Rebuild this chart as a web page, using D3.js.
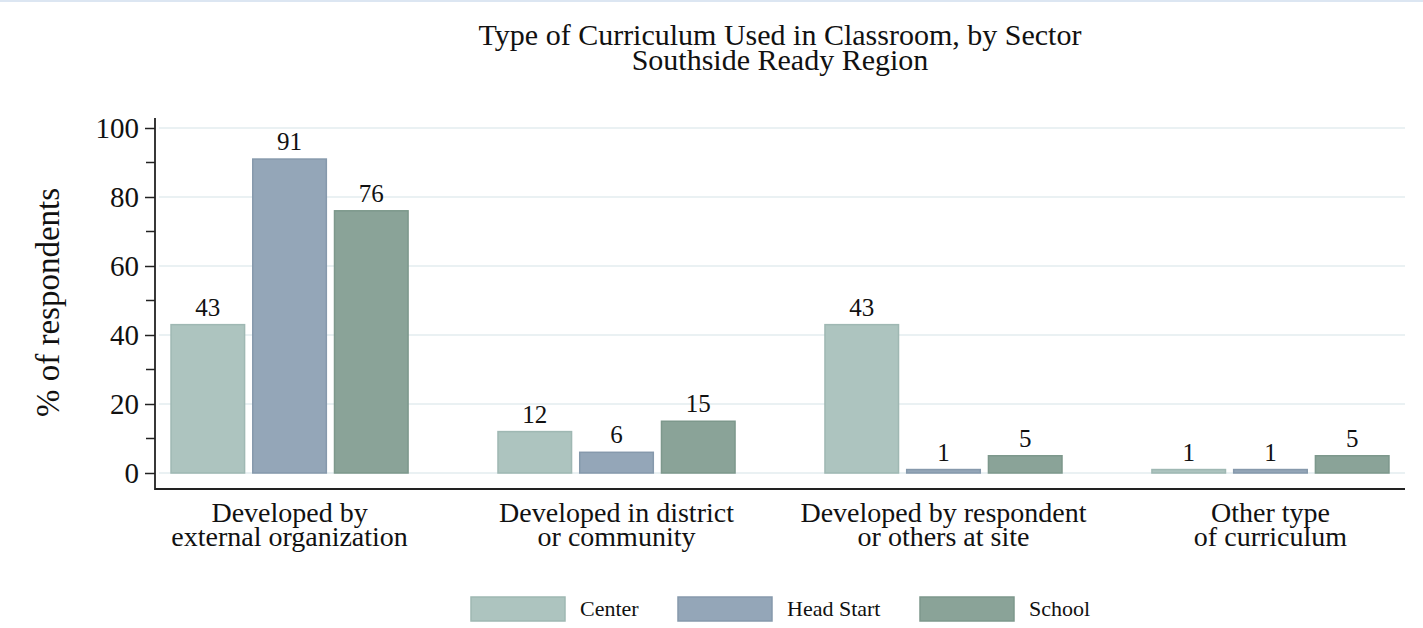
<!DOCTYPE html>
<html><head><meta charset="utf-8">
<script src="https://cdn.jsdelivr.net/npm/d3@7"></script>
<style>body{margin:0;background:#fff}svg{display:block}text{font-family:"Liberation Serif","Times New Roman",serif;fill:#111}</style>
</head><body>
<script>
const categories = [["Developed by","external organization"],["Developed in district","or community"],["Developed by respondent","or others at site"],["Other type","of curriculum"]];
const seriesNames = ["Center","Head Start","School"];
const centerVals = [43,12,43,1];
const headStartVals = [91,6,1,1];
const schoolVals = [76,15,5,5];
const yTicks = [0,20,40,60,80,100];
const yMinor = [10,30,50,70,90];
const titleLines = ["Type of Curriculum Used in Classroom, by Sector","Southside Ready Region"];
const yTitle = "% of respondents";

const fills = ["#adc4bf","#94a6b8","#8aa398"];
const strokes = ["#9fb8b3","#8699ac","#7d988c"];
const series = [centerVals, headStartVals, schoolVals];

const W=1423,H=628;
const svg=d3.select("body").append("svg").attr("width",W).attr("height",H);
svg.append("rect").attr("x",0).attr("y",0).attr("width",W).attr("height",2).attr("fill","#dce6f2");

const L=155,R=1405,T=128,B=473;
const x0=d3.scaleBand().domain(d3.range(categories.length)).range([L,R]).paddingInner(0.275).paddingOuter(0.049);
const x1=d3.scaleBand().domain(d3.range(seriesNames.length)).range([0,x0.bandwidth()]).paddingInner(0.1).paddingOuter(0);
const y=d3.scaleLinear().domain([0,100]).range([B,T]);

// gridlines
svg.append("g").selectAll("line").data(yTicks).join("line")
 .attr("x1",L+4).attr("x2",R).attr("y1",d=>y(d)).attr("y2",d=>y(d))
 .attr("stroke","#eaf1f3").attr("stroke-width",2);

// bars
const g=svg.append("g");
series.forEach((vals,si)=>{
  g.append("g").selectAll("rect").data(vals).join("rect")
   .attr("x",(d,i)=>x0(i)+x1(si)).attr("width",x1.bandwidth())
   .attr("y",d=>y(d)).attr("height",d=>y(0)-y(d))
   .attr("fill",fills[si]).attr("stroke",strokes[si]).attr("stroke-width",1.5);
  g.append("g").selectAll("text").data(vals).join("text")
   .attr("x",(d,i)=>x0(i)+x1(si)+x1.bandwidth()/2).attr("y",d=>y(d)-9)
   .attr("text-anchor","middle").attr("font-size",25).text(d=>d);
});

// y axis
const yAxis=d3.axisLeft(y).tickValues(yTicks).tickSize(10).tickPadding(6).tickFormat(d3.format("d"));
const ya=svg.append("g").attr("transform",`translate(${L},0)`).call(yAxis);
ya.select(".domain").remove();
ya.selectAll("line").attr("stroke","#222").attr("stroke-width",1.5);
ya.selectAll("text").attr("font-size",29).attr("font-family","Liberation Serif").attr("fill","#111").attr("dy","0.34em");
svg.append("g").selectAll("line").data(yMinor).join("line")
 .attr("x1",L-9).attr("x2",L).attr("y1",d=>y(d)).attr("y2",d=>y(d)).attr("stroke","#222").attr("stroke-width",1.5);
svg.append("line").attr("x1",L).attr("x2",L).attr("y1",118).attr("y2",490).attr("stroke","#222").attr("stroke-width",1.8);
svg.append("line").attr("x1",L).attr("x2",R).attr("y1",489).attr("y2",489).attr("stroke","#222").attr("stroke-width",1.8);

// x labels
const xl=svg.append("g").selectAll("text").data(categories).join("text")
 .attr("text-anchor","middle").attr("font-size",28)
 .attr("transform",(d,i)=>`translate(${x0(i)+x0.bandwidth()/2},522)`);
xl.append("tspan").attr("x",0).attr("y",0).text(d=>d[0]);
xl.append("tspan").attr("x",0).attr("y",24).text(d=>d[1]);

// y title
svg.append("text").attr("transform",`translate(59,${(T+B)/2+2}) rotate(-90)`).attr("text-anchor","middle")
 .attr("font-size",33).text(yTitle);

// title
svg.append("g").selectAll("text").data(titleLines).join("text")
 .attr("x",(L+R)/2).attr("y",(d,i)=>45+i*25).attr("text-anchor","middle").attr("font-size",30).text(d=>d);

// legend
const legX=[471,678,920];
const leg=svg.append("g").selectAll("g").data(seriesNames).join("g").attr("transform",(d,i)=>`translate(${legX[i]},597)`);
leg.append("rect").attr("width",94).attr("height",24).attr("fill",(d,i)=>fills[i]).attr("stroke",(d,i)=>strokes[i]).attr("stroke-width",1.5);
leg.append("text").attr("x",109).attr("y",19).attr("font-size",22).text(d=>d);
</script>
</body></html>
